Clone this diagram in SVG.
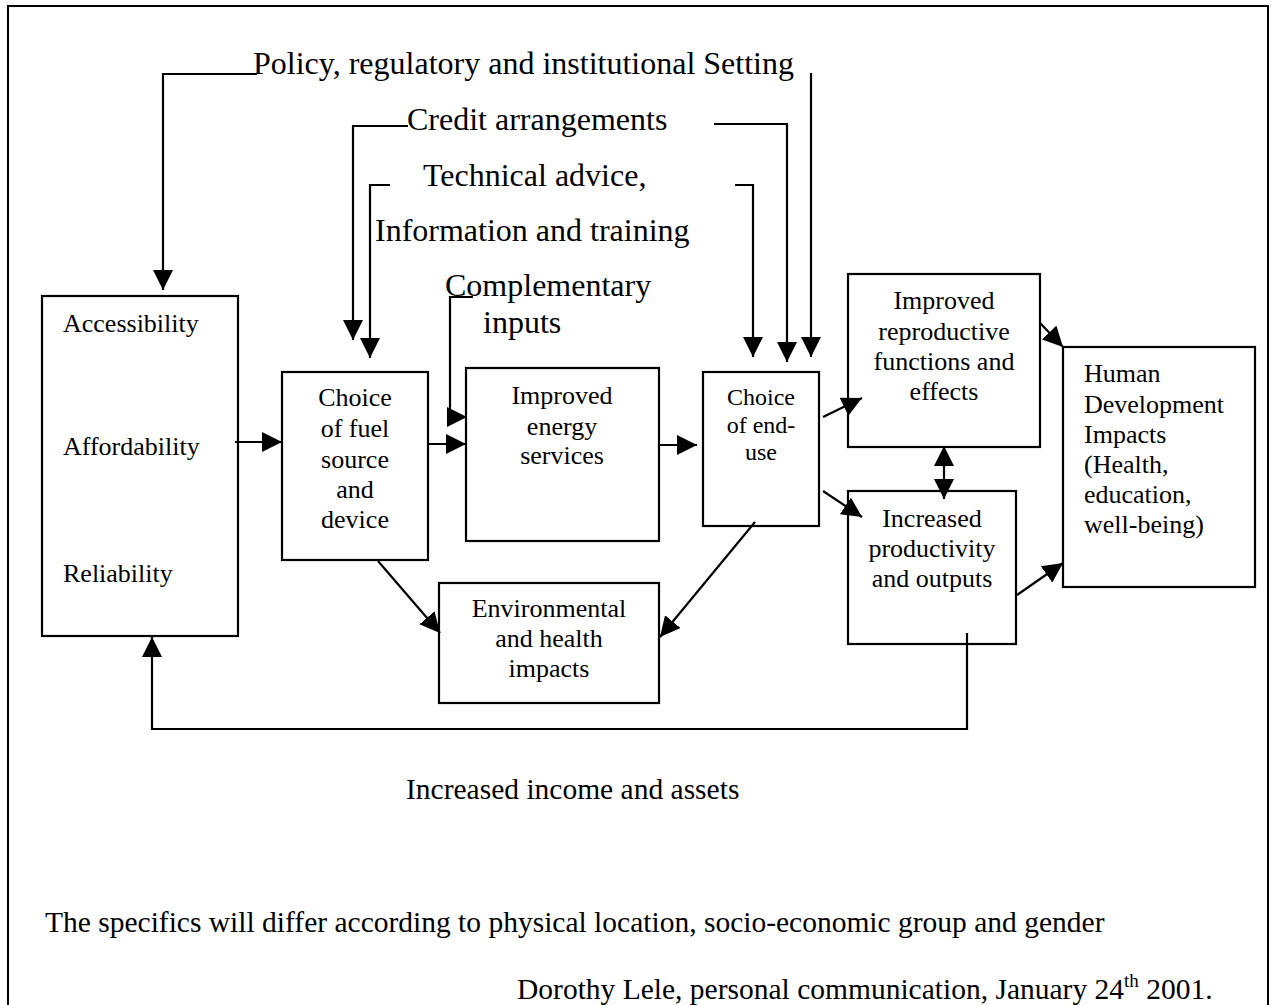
<svg xmlns="http://www.w3.org/2000/svg" width="1273" height="1005" viewBox="0 0 1273 1005">
<defs>
<marker id="ah" markerUnits="userSpaceOnUse" markerWidth="20" markerHeight="20" refX="20" refY="10" orient="auto-start-reverse" viewBox="0 0 20 20">
<path d="M0,0 L20,10 L0,20 z" fill="#000"/>
</marker>
<style>
.bx{fill:#fff;stroke:#000;stroke-width:2.2}
.ln{fill:none;stroke:#000;stroke-width:2.2;marker-end:url(#ah)}
.t{font-family:"Liberation Serif","Times New Roman",serif;fill:#000}
.big{font-size:32px}
.mid{font-size:26px}
.sm{font-size:24px}
.bot{font-size:29.5px}
.c{text-anchor:middle}
</style>
</defs>
<rect width="1273" height="1005" fill="#fff"/>
<rect x="8" y="6" width="1260" height="1012" fill="none" stroke="#000" stroke-width="2"/>

<g id="labels-top" class="t big">
<text x="253" y="74">Policy, regulatory and institutional Setting</text>
<text x="407" y="130">Credit arrangements</text>
<text x="423" y="186">Technical advice,</text>
<text x="375" y="241">Information and training</text>
<text x="445" y="296">Complementary</text>
<text x="483" y="333">inputs</text>
</g>

<g id="node-access">
<rect class="bx" x="42" y="296" width="196" height="340"/>
<text class="t mid" x="63" y="332">Accessibility</text>
<text class="t mid" x="63" y="455">Affordability</text>
<text class="t mid" x="63" y="582">Reliability</text>
</g>

<g id="node-fuel">
<rect class="bx" x="282" y="372" width="146" height="188"/>
<text class="t mid c" x="355" y="406">Choice</text>
<text class="t mid c" x="355" y="437">of fuel</text>
<text class="t mid c" x="355" y="468">source</text>
<text class="t mid c" x="355" y="498">and</text>
<text class="t mid c" x="355" y="528">device</text>
</g>

<g id="node-energy">
<rect class="bx" x="466" y="368" width="193" height="173"/>
<text class="t mid c" x="562" y="404">Improved</text>
<text class="t mid c" x="562" y="435">energy</text>
<text class="t mid c" x="562" y="464">services</text>
</g>

<g id="node-enduse">
<rect class="bx" x="703" y="372" width="116" height="154"/>
<text class="t sm c" x="761" y="405">Choice</text>
<text class="t sm c" x="761" y="433">of end-</text>
<text class="t sm c" x="761" y="460">use</text>
</g>

<g id="node-env">
<rect class="bx" x="439" y="583" width="220" height="120"/>
<text class="t mid c" x="549" y="617">Environmental</text>
<text class="t mid c" x="549" y="647">and health</text>
<text class="t mid c" x="549" y="677">impacts</text>
</g>

<g id="node-repro">
<rect class="bx" x="848" y="274" width="192" height="173"/>
<text class="t mid c" x="944" y="309">Improved</text>
<text class="t mid c" x="944" y="340">reproductive</text>
<text class="t mid c" x="944" y="370">functions and</text>
<text class="t mid c" x="944" y="400">effects</text>
</g>

<g id="node-prod">
<rect class="bx" x="848" y="491" width="168" height="153"/>
<text class="t mid c" x="932" y="527">Increased</text>
<text class="t mid c" x="932" y="557">productivity</text>
<text class="t mid c" x="932" y="587">and outputs</text>
</g>

<g id="node-human">
<rect class="bx" x="1063" y="347" width="192" height="240"/>
<text class="t mid" x="1084" y="382">Human</text>
<text class="t mid" x="1084" y="413">Development</text>
<text class="t mid" x="1084" y="443">Impacts</text>
<text class="t mid" x="1084" y="473">(Health,</text>
<text class="t mid" x="1084" y="503">education,</text>
<text class="t mid" x="1084" y="533">well-being)</text>
</g>

<g id="connectors">
<path class="ln" d="M257,74 H163 V290"/>
<path class="ln" d="M408,126 H353 V340"/>
<path class="ln" d="M390,185 H370 V358"/>
<path class="ln" d="M473,297 H450 V417 H467"/>
<path class="ln" d="M714,124 H787 V362"/>
<path class="ln" d="M735,185 H753 V357"/>
<path class="ln" d="M811,73 V357"/>
<path class="ln" d="M235,442 H282"/>
<path class="ln" d="M428,444 H466"/>
<path class="ln" d="M659,445 H697"/>
<path class="ln" d="M823,417 L862,398"/>
<path class="ln" d="M823,491 L862,517"/>
<path class="ln" d="M755,522 L660,637"/>
<path class="ln" d="M378,561 L440,633"/>
<path class="ln" d="M1040,323 L1063,347"/>
<path class="ln" d="M1017,595 L1063,563"/>
<path class="ln" d="M944,446 V499" style="marker-start:url(#ah)"/>
<path class="ln" d="M967,633 V729 H152 V637"/>
</g>

<g id="labels-bottom" class="t bot">
<text x="406" y="799">Increased income and assets</text>
<text x="45" y="932">The specifics will differ according to physical location, socio-economic group and gender</text>
<text x="517" y="999">Dorothy Lele, personal communication, January 24<tspan font-size="19" dy="-12">th</tspan><tspan dy="12"> 2001.</tspan></text>
</g>
</svg>
